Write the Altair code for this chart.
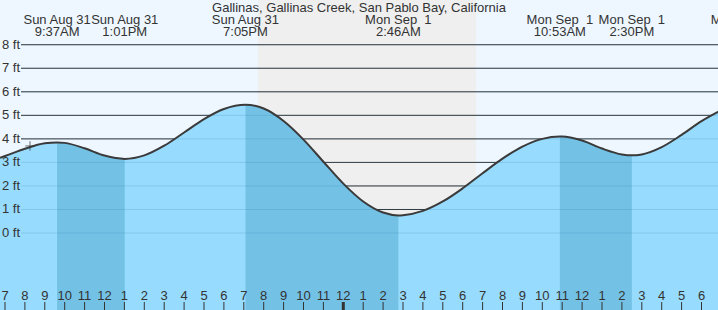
import altair as alt
import pandas as pd

# ---- data ----
hours = [6.75, 7, 8, 9, 9.617, 10, 11, 12, 13.017, 14, 15, 16, 17, 18, 19.083,
         20, 21, 22, 23, 24, 25, 26, 26.767, 27, 28, 29, 30, 31, 32, 33, 34,
         34.883, 35, 36, 37, 38, 38.5, 39, 40, 41, 42, 43]
heights = [3.20, 3.27, 3.58, 3.81, 3.85, 3.83, 3.60, 3.29, 3.15, 3.30, 3.71,
           4.27, 4.84, 5.27, 5.45, 5.29, 4.76, 3.97, 3.03, 2.10, 1.34, 0.87,
           0.75, 0.76, 0.94, 1.34, 1.90, 2.54, 3.16, 3.67, 4.00, 4.10, 4.10,
           3.93, 3.59, 3.34, 3.30, 3.34, 3.65, 4.17, 4.75, 5.22]

event_hours = [9.617, 13.017, 19.083, 26.767, 34.883, 38.5, 44.14]
event_day = ["Sun Aug 31", "Sun Aug 31", "Sun Aug 31", "Mon Sep\u00a0\u00a01",
             "Mon Sep\u00a0\u00a01", "Mon Sep\u00a0\u00a01", "Mon Sep\u00a0\u00a01"]
event_clock = ["9:37AM", "1:01PM", "7:05PM", "2:46AM", "10:53AM", "2:30PM", "8:08PM"]

# falling-tide bands (high -> low)
falling = [(9.617, 13.017), (19.083, 26.767), (34.883, 38.5)]

night_start = [19.71]
night_end = [30.67]

feet = [0, 1, 2, 3, 4, 5, 6, 7, 8]
tick_hours = list(range(7, 43))
now_hour = [8.256]
now_height = [3.70]

title = "Gallinas, Gallinas Creek, San Pablo Bay, California"

Y_MIN, Y_MAX = -3.27, 9.90

# ---- tables ----
tide = pd.DataFrame({"t": hours, "h": heights})
tide["base"] = Y_MIN
rows = []
for i, (a, b) in enumerate(falling):
    for t, h in zip(hours, heights):
        if a <= t <= b:
            rows.append({"t": t, "h": h, "seg": i, "base": Y_MIN})
dark = pd.DataFrame(rows)
night = pd.DataFrame({"s": night_start, "e": night_end})
grid = pd.DataFrame({"ft": feet, "lab": [f"{f} ft" for f in feet]})
ticks = pd.DataFrame({
    "t": tick_hours,
    "lab": [str(12 if h % 12 == 0 else h % 12) for h in tick_hours],
    "w": [3 if h % 24 == 0 else 1 for h in tick_hours],
})
events = pd.DataFrame({"t": event_hours, "d": event_day, "c": event_clock})
now = pd.DataFrame({"t": now_hour, "h": now_height})

W, H = 718, 310
xs = alt.Scale(domain=[6.749, 42.829], nice=False, zero=False)
ys = alt.Scale(domain=[Y_MIN, Y_MAX], nice=False, zero=False)
FONT = "Liberation Sans"
TXT = "#333333"

X = alt.X("t:Q", scale=xs, axis=None)
Y = alt.Y("h:Q", scale=ys, axis=None, stack=None)

night_l = alt.Chart(night).mark_rect(color="#efefef").encode(
    x=alt.X("s:Q", scale=xs, axis=None), x2="e:Q",
    y=alt.value(0), y2=alt.value(H))

grid_black = alt.Chart(grid).mark_rule(color="#333333", strokeWidth=1).encode(
    y=alt.Y("ft:Q", scale=ys, axis=None), x=alt.value(21), x2=alt.value(W))

area_light = alt.Chart(tide).mark_area(color="#97dcfe", interpolate="monotone", clip=True).encode(
    x=X, y=Y, y2="base:Q")

area_dark = alt.Chart(dark).mark_area(color="#73c2e6", interpolate="monotone", clip=True).encode(
    x=X, y=Y, y2="base:Q", detail="seg:N")

grid_water = alt.Chart(grid).mark_rule(color="#2a6f9a", opacity=0.18, strokeWidth=1).encode(
    y=alt.Y("ft:Q", scale=ys, axis=None), x=alt.value(21), x2=alt.value(W))

line = alt.Chart(tide).mark_line(color="#3a3a3a", strokeWidth=2, interpolate="monotone", clip=True).encode(
    x=X, y=Y)

now_l = alt.Chart(now).mark_point(shape="M-1,0L1,0M0,-1L0,1", size=90, color="#333333",
                                   strokeWidth=1, filled=False).encode(x=X, y=Y)

tick_l = alt.Chart(ticks).mark_rule(color="#333333").encode(
    x=X, y=alt.value(302), y2=alt.value(H),
    strokeWidth=alt.StrokeWidth("w:Q", scale=None, legend=None))

tick_txt = alt.Chart(ticks).mark_text(font=FONT, fontSize=13, color=TXT, baseline="alphabetic").encode(
    x=X, y=alt.value(299.5), text="lab:N")

ft_txt = alt.Chart(grid).mark_text(font=FONT, fontSize=13, color=TXT, align="left", baseline="middle").encode(
    x=alt.value(2), y=alt.Y("ft:Q", scale=ys, axis=None), text="lab:N")

ev1 = alt.Chart(events).mark_text(font=FONT, fontSize=13, color=TXT, baseline="alphabetic", clip=True).encode(
    x=X, y=alt.value(24), text="d:N")
ev2 = alt.Chart(events).mark_text(font=FONT, fontSize=13, color=TXT, baseline="alphabetic", clip=True).encode(
    x=X, y=alt.value(36), text="c:N")

title_l = alt.Chart(pd.DataFrame({"s": [title]})).mark_text(
    font=FONT, fontSize=13, color=TXT, baseline="alphabetic").encode(
    x=alt.value(W / 2), y=alt.value(12), text="s:N")

chart = alt.layer(
    night_l, grid_black, area_light, area_dark, grid_water, line, now_l,
    tick_l, tick_txt, ft_txt, ev1, ev2, title_l
).properties(width=W, height=H, padding=0, autosize="none", background="#eef7ff"
).configure_view(stroke=None)

chart.save("out.html", embed_options={"renderer": "svg", "actions": False})
